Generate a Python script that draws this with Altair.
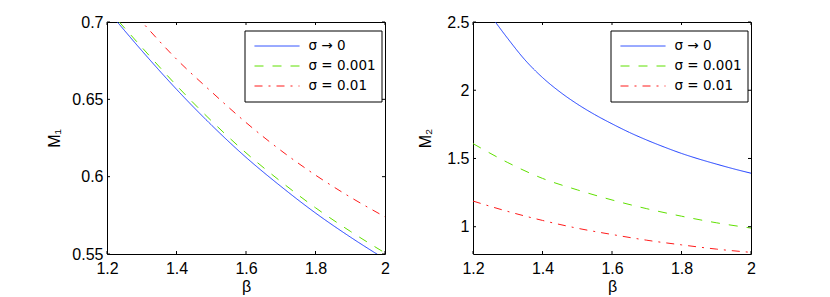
import altair as alt
import pandas as pd

# ---- data ----
beta = [1.2, 1.3, 1.4, 1.5, 1.6, 1.7, 1.8, 1.9, 2.0]
m1_sigma0 = [0.708, 0.6815, 0.6565, 0.6335, 0.6125, 0.5938, 0.5765, 0.561, 0.5467]
m1_sigma001 = [0.709, 0.6837, 0.659, 0.6362, 0.6154, 0.5969, 0.5799, 0.5647, 0.5507]
m1_sigma01 = [0.726, 0.7002, 0.676, 0.655, 0.635, 0.617, 0.601, 0.5868, 0.574]

beta_m2_sigma0 = [1.25, 1.3, 1.35, 1.4, 1.45, 1.5, 1.55, 1.6, 1.65, 1.7, 1.75, 1.8, 1.85, 1.9, 1.95, 2.0]
m2_sigma0 = [2.55, 2.379, 2.221, 2.093, 1.988, 1.899, 1.822, 1.754, 1.691, 1.635, 1.584, 1.537, 1.496, 1.459, 1.424, 1.392]
m2_sigma001 = [1.609, 1.47, 1.354, 1.27, 1.196, 1.132, 1.077, 1.029, 0.99]
m2_sigma01 = [1.188, 1.112, 1.046, 0.989, 0.943, 0.901, 0.867, 0.836, 0.812]

series_labels = ["σ → 0", "σ = 0.001", "σ = 0.01"]
series_colors = ["#1a3cff", "#5fe000", "#ff1a1a"]
series_dashes = [[1, 0], [9, 9], [8, 6, 2, 6]]

x_ticks = [1.2, 1.4, 1.6, 1.8, 2.0]
m1_ticks = [0.55, 0.6, 0.65, 0.7]
m2_ticks = [1, 1.5, 2, 2.5]
x_domain = [1.2, 2.0]
m1_domain = [0.55, 0.7]
m2_domain = [0.8, 2.5]


def long_df(pairs):
    rows = []
    for label, xs, ys in pairs:
        for b, m in zip(xs, ys):
            rows.append({"beta": b, "M": m, "series": label})
    return pd.DataFrame(rows)


df1 = long_df([
    (series_labels[0], beta, m1_sigma0),
    (series_labels[1], beta, m1_sigma001),
    (series_labels[2], beta, m1_sigma01),
])
df2 = long_df([
    (series_labels[0], beta_m2_sigma0, m2_sigma0),
    (series_labels[1], beta, m2_sigma001),
    (series_labels[2], beta, m2_sigma01),
])

W, H = 278, 232
FONT = "Liberation Sans"
LEGEND_FONT = "DejaVu Sans"


def make_legend():
    return alt.Legend(
        title=None, orient="none", legendX=137.5, legendY=8.5,
        symbolType="stroke", symbolSize=2025, symbolStrokeWidth=1,
        clipHeight=20, rowPadding=0, padding=5.5,
        strokeColor="black", fillColor="white", cornerRadius=0,
        labelFontSize=13.5, labelOffset=8.5, symbolOffset=4,
        labelFont=LEGEND_FONT, labelColor="black",
    )


def panel(df, ytitle, ydomain, yticks, title_x):
    xscale = alt.Scale(domain=x_domain, nice=False, zero=False)
    yscale = alt.Scale(domain=ydomain, nice=False, zero=False)
    xaxis = alt.Axis(values=x_ticks, format="~g", title="β", labelFlush=False,
                     labelPadding=6, titleY=24, titleBaseline="top")
    yaxis = alt.Axis(values=yticks, format="~g", title=ytitle, labelPadding=4,
                     titleX=title_x, titleAngle=270, titleBaseline="bottom",
                     titleAlign="center")
    lines = alt.Chart(df).mark_line(clip=True, strokeWidth=1, interpolate="monotone").encode(
        x=alt.X("beta:Q", scale=xscale, axis=xaxis, title="β"),
        y=alt.Y("M:Q", scale=yscale, axis=yaxis, title=ytitle),
        color=alt.Color("series:N", sort=series_labels,
                        scale=alt.Scale(domain=series_labels, range=series_colors),
                        legend=make_legend()),
        strokeDash=alt.StrokeDash("series:N", sort=series_labels,
                                  scale=alt.Scale(domain=series_labels, range=series_dashes),
                                  legend=make_legend()),
    )
    xt = pd.DataFrame({"beta": x_ticks})
    yt = pd.DataFrame({"M": yticks})
    tick_style = dict(color="black", strokeWidth=1)
    xenc = alt.X("beta:Q", scale=xscale, axis=xaxis, title="β")
    yenc = alt.Y("M:Q", scale=yscale, axis=yaxis, title=ytitle)
    bx = alt.Chart(xt).mark_rule(**tick_style).encode(x=xenc, y=alt.value(H), y2=alt.value(H - 3))
    tx = alt.Chart(xt).mark_rule(**tick_style).encode(x=xenc, y=alt.value(0), y2=alt.value(3))
    ly = alt.Chart(yt).mark_rule(**tick_style).encode(y=yenc, x=alt.value(0), x2=alt.value(3))
    ry = alt.Chart(yt).mark_rule(**tick_style).encode(y=yenc, x=alt.value(W), x2=alt.value(W - 3))
    return alt.layer(lines, bx, tx, ly, ry).properties(width=W, height=H)


left = panel(df1, "M₁", m1_domain, m1_ticks, -45)
right = panel(df2, "M₂", m2_domain, m2_ticks, -40)

chart = (
    alt.hconcat(left, right, spacing=88, bounds="flush")
    .resolve_scale(x="independent", y="independent", color="independent", strokeDash="independent")
    .resolve_legend(color="independent", strokeDash="independent")
    .properties(padding={"left": 37, "top": 5, "right": 5, "bottom": 5}, background="white")
    .configure_view(stroke="black", strokeWidth=1)
    .configure_axis(labelFont=FONT, titleFont=FONT, labelFontSize=16, titleFontSize=16,
                    labelColor="black", titleColor="black", titleFontWeight="normal",
                    tickSize=0, domain=False, grid=False)
)

chart.save("out.html", embed_options={"renderer": "svg", "actions": False})
